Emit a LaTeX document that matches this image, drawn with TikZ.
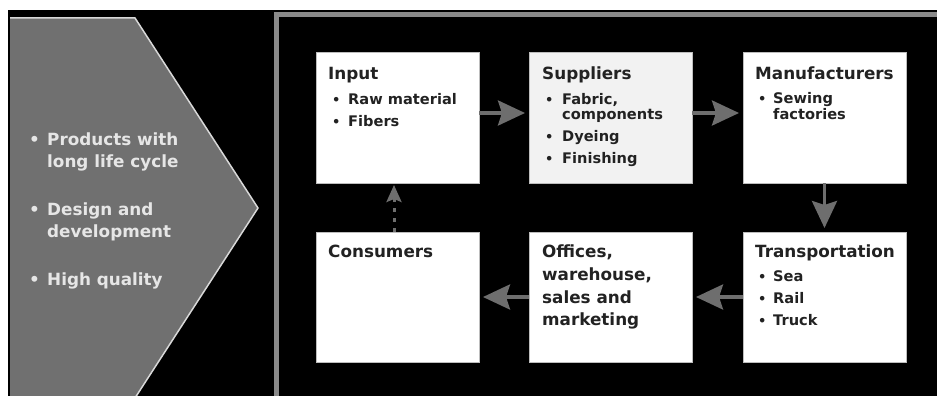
\documentclass[tikz,border=0pt]{standalone}
\usepackage{fontspec}
\setmainfont{DejaVu Sans}
\usetikzlibrary{arrows.meta}

\definecolor{chevfill}{HTML}{707070}
\definecolor{chevline}{HTML}{D8D8D8}
\definecolor{framegray}{HTML}{8A8A8A}
\definecolor{arrowgray}{HTML}{6E6E6E}
\definecolor{boxline}{HTML}{BDBDBD}
\definecolor{suppfill}{HTML}{F2F2F2}
\definecolor{inktext}{HTML}{222222}
\definecolor{chevtext}{HTML}{E6E6E6}

% title line, bullet glyph, bullet text, side-panel text
\newcommand\boxtitle[4]{\node[titletext] (#1) at (#2,#3) {#4};}
\newcommand\boxitem[5]{%
  \node[bullettext] (#1b) at (#2,#4) {\textbullet};
  \node[itemtext] (#1) at (#3,#4) {#5};}
\newcommand\sideline[4]{\node[sidetext] (#1) at (#2,#3) {#4};}

\begin{document}
\begin{tikzpicture}[x=1pt,y=-1pt,
  stagebox/.style={draw=boxline, line width=1pt, fill=white, inner sep=0pt,
    outer sep=0pt, minimum width=163pt, minimum height=130pt},
  titletext/.style={anchor=base west, inner sep=0pt, text=inktext,
    font=\fontsize{16.8}{18}\selectfont\bfseries},
  itemtext/.style={anchor=base west, inner sep=0pt, text=inktext,
    font=\fontsize{14.6}{15}\selectfont\bfseries},
  bullettext/.style={anchor=base west, inner sep=0pt, text=inktext,
    font=\fontsize{13}{15}\selectfont\bfseries},
  sidetext/.style={anchor=base west, inner sep=0pt, text=chevtext,
    font=\fontsize{16.8}{22}\selectfont\bfseries},
  flow/.style={draw=arrowgray, line width=3.5pt,
    -{Stealth[length=27pt, width=25pt, inset=4pt]}, shorten >=4pt},
  backflow/.style={draw=arrowgray, line width=3pt, dash pattern=on 4pt off 6pt,
    -{Stealth[length=17pt, width=15pt, inset=3pt]}, shorten >=2pt}
]
\useasboundingbox (0,0) rectangle (937,396);
\fill[white] (0,0) rectangle (937,396);
\fill[black] (8,10) rectangle (937,396);

% side chevron
\filldraw[fill=chevfill, draw=chevline, line width=1.5pt]
  (10,18) -- (135,18) -- (258,208) -- (135,398) -- (10,398);

% outer frame (runs off the right and bottom edges)
\draw[framegray, line width=5pt] (276,400) -- (276,15) -- (940,15);

% stage boxes
\node[stagebox] (input) at (397.5,118) {};
\node[stagebox, fill=suppfill] (supp) at (610.5,118) {};
\node[stagebox] (manu) at (824.5,118) {};
\node[stagebox] (cons) at (397.5,297) {};
\node[stagebox] (offi) at (610.5,297) {};
\node[stagebox] (trans) at (824.5,297) {};

% connectors
\draw[flow] ([yshift=5pt]input.east) -- ([yshift=5pt]supp.west);
\draw[flow] ([yshift=5pt]supp.east) -- ([yshift=5pt]manu.west);
\draw[flow] (manu.south) -- (trans.north);
\draw[flow] (trans.west) -- (offi.east);
\draw[flow] (offi.west) -- (cons.east);
\draw[backflow] ([xshift=-3.5pt]cons.north) -- ([xshift=-3.5pt]input.south);

% box texts
\boxtitle{inputT}{328}{79}{Input}
\boxitem{inputA}{332}{348}{104}{Raw material}
\boxitem{inputB}{332}{348}{126}{Fibers}

\boxtitle{suppT}{542}{79}{Suppliers}
\boxitem{suppA}{545}{562}{104}{Fabric,}
\node[itemtext] (suppA2) at (562,119) {components};
\boxitem{suppB}{545}{562}{141}{Dyeing}
\boxitem{suppC}{545}{562}{163}{Finishing}

\boxtitle{manuT}{755}{79}{Manufacturers}
\boxitem{manuA}{758}{773}{103}{Sewing}
\node[itemtext] (manuA2) at (773,119) {factories};

\boxtitle{consT}{328}{257}{Consumers}

\boxtitle{offiT}{542}{257}{Offices,}
\boxtitle{offiT2}{542}{280}{warehouse,}
\boxtitle{offiT3}{542}{303}{sales and}
\boxtitle{offiT4}{542}{325}{marketing}

\boxtitle{transT}{755}{257}{Transportation}
\boxitem{transA}{758}{773}{281}{Sea}
\boxitem{transB}{758}{773}{303}{Rail}
\boxitem{transC}{758}{773}{325}{Truck}

% side panel texts
\node[sidetext] (sideb1) at (29,145) {\textbullet};
\sideline{sideA}{47}{145}{Products with}
\sideline{sideA2}{47}{167}{long life cycle}
\node[sidetext] (sideb2) at (29,215) {\textbullet};
\sideline{sideB}{47}{215}{Design and}
\sideline{sideB2}{47}{237}{development}
\node[sidetext] (sideb3) at (29,285) {\textbullet};
\sideline{sideC}{47}{285}{High quality}
\end{tikzpicture}
\end{document}
